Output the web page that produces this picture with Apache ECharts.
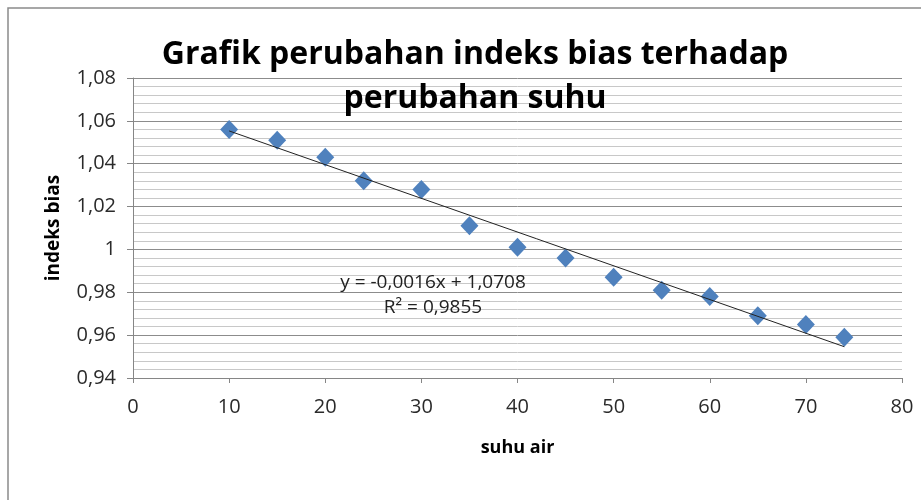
<!DOCTYPE html>
<html>
<head>
<meta charset="utf-8">
<script src="https://cdn.jsdelivr.net/npm/echarts@6/dist/echarts.min.js"></script>
<style>
  html, body { margin: 0; padding: 0; background: #fff; }
  #chart { width: 921px; height: 500px; }
</style>
</head>
<body>
<div id="chart"></div>
<script>
// suhu air (x) dan indeks bias (y)
const suhu = [10, 15, 20, 24, 30, 35, 40, 45, 50, 55, 60, 65, 70, 74]
const indeksBias = [1.056, 1.051, 1.043, 1.032, 1.028, 1.011, 1.001, 0.996, 0.987, 0.981, 0.978, 0.969, 0.965, 0.959]
// ujung garis trendline seperti terlihat di gambar
const trendX = [10, 74]
const trendY = [1.0553, 0.9546]
const eqText = ['y = -0,0016x + 1,0708', 'R² = 0,9855']

const font = '"Open Sans", "Noto Sans", sans-serif'

const fmtY = function (v) {
  return String(Number(v.toFixed(2))).replace('.', ',')
}

const chart = echarts.init(document.getElementById('chart'))
chart.setOption({
  animation: false,
  backgroundColor: '#fff',
  grid: { left: 133, right: 19, top: 78, bottom: 122 },
  title: {
    text: 'Grafik perubahan indeks bias terhadap\nperubahan suhu',
    left: 470,
    top: 28,
    textAlign: 'center',
    textStyle: { fontFamily: font, fontSize: 32, fontWeight: 'bold', color: '#000', lineHeight: 44 }
  },
  xAxis: {
    type: 'value',
    min: 0,
    max: 80,
    interval: 10,
    name: 'suhu air',
    nameLocation: 'middle',
    nameGap: 61,
    nameTextStyle: { fontFamily: font, fontSize: 18, fontWeight: 'bold', color: '#000' },
    axisLine: { lineStyle: { color: '#868686', width: 1 } },
    axisTick: { show: true, length: 5, lineStyle: { color: '#868686' } },
    axisLabel: { fontFamily: font, fontSize: 20, color: '#2a2a2a', margin: 19 },
    splitLine: { show: false }
  },
  yAxis: {
    type: 'value',
    min: 0.94,
    max: 1.08,
    interval: 0.02,
    name: 'indeks bias',
    nameLocation: 'middle',
    nameRotate: 90,
    nameGap: 70,
    nameTextStyle: { fontFamily: font, fontSize: 19, fontWeight: 'bold', color: '#000' },
    axisLine: { show: true, lineStyle: { color: '#868686', width: 1 } },
    axisTick: { show: true, length: 6, lineStyle: { color: '#868686' } },
    axisLabel: { fontFamily: font, fontSize: 20, color: '#2a2a2a', margin: 17, formatter: fmtY },
    splitLine: { show: true, lineStyle: { color: '#8c8c8c', width: 1 } },
    minorTick: { show: false, splitNumber: 5 },
    minorSplitLine: { show: true, lineStyle: { color: '#c8c8c8', width: 1 } }
  },
  series: [
    {
      type: 'line',
      data: trendX.map((x, i) => [x, trendY[i]]),
      symbol: 'none',
      lineStyle: { color: '#222', width: 1 },
      z: 3
    },
    {
      type: 'scatter',
      data: suhu.map((x, i) => [x, indeksBias[i]]),
      symbol: 'diamond',
      symbolSize: [18, 19],
      itemStyle: { color: '#4f81bd', opacity: 1 },
      z: 2
    }
  ],
  graphic: [
    {
      type: 'rect',
      shape: { x: 8, y: 8, width: 1000, height: 1000 },
      style: { fill: 'none', stroke: '#8a8a8a', lineWidth: 1.5 },
      silent: true
    },
    {
      type: 'text',
      x: 433,
      y: 295,
      style: {
        text: eqText.join('\n'),
        font: '19px ' + font,
        fill: '#222',
        align: 'center',
        verticalAlign: 'middle',
        lineHeight: 25
      },
      z: 10
    }
  ]
})
</script>
</body>
</html>
